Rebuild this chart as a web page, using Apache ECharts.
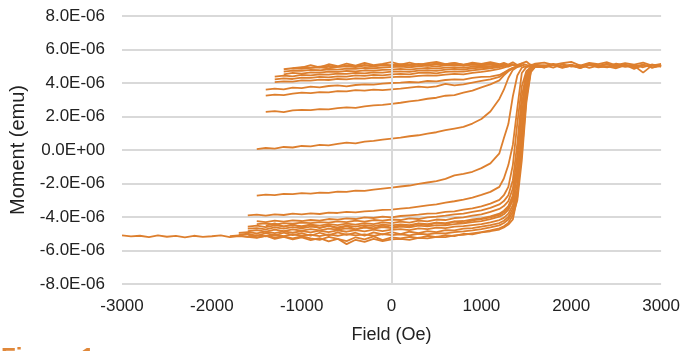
<!DOCTYPE html>
<html>
<head>
<meta charset="utf-8">
<script src="https://cdn.jsdelivr.net/npm/echarts@6/dist/echarts.min.js"></script>
<style>
html,body{margin:0;padding:0;background:#fff;}
#chart{width:683px;height:351px;}
</style>
</head>
<body>
<div id="chart"></div>
<script>
// Field grid (Oe)
const field = [-3000,-2900,-2800,-2700,-2600,-2500,-2400,-2300,-2200,-2100,-2000,-1900,-1800,-1700,
  -1600,-1500,-1400,-1300,-1200,-1100,-1000,
  -900,-800,-700,-600,-500,-400,-300,-200,-100,0,
  100,200,300,400,500,600,700,800,900,1000,
  1100,1200,
  1250,1300,1350,1400,1450,1500,1550,1600,
  1700,1800,1900,2000,2100,2200,2300,2400,2500,2600,2700,2800,2900,3000];

const xTickValues = [-3000,-2000,-1000,0,1000,2000,3000];
const xTickLabels = ['-3000','-2000','-1000','0','1000','2000','3000'];
const yTickLabels = ['-8.0E-06','-6.0E-06','-4.0E-06','-2.0E-06','0.0E+00','2.0E-06','4.0E-06','6.0E-06','8.0E-06'];

// Moment values in units of 1E-06 emu; each curve starts at the given field
const mainStart = -3000;
const mainCurve = [-5.10,-5.16,-5.12,-5.20,-5.10,-5.18,-5.13,-5.22,-5.12,-5.19,-5.15,-5.10,-5.20,-5.14,
  -5.19,-5.24,-5.13,-5.22,-5.16,-5.27,-5.15,
  -5.27,-5.36,-5.19,-5.30,-5.44,-5.21,-5.33,-5.16,-5.38,-5.22,
  -5.28,-5.18,-5.26,-5.12,-5.20,-5.08,-5.14,-5.00,-5.04,-4.92,
  -4.85,-4.75,
  -4.62,-4.45,-4.15,-2.80,0.60,4.00,4.88,5.02,
  4.92,5.12,4.96,5.06,4.88,5.10,4.94,5.16,4.96,5.08,4.84,5.10,4.92,5.06];

const low1Start = -1500;
const low1 = [-4.25,-4.30,-4.22,-4.28,-4.20,-4.24,
  -4.18,-4.22,-4.12,-4.16,-4.08,-4.12,-4.02,-4.06,-3.98,-4.02,
  -3.94,-3.90,-3.86,-3.80,-3.78,-3.70,-3.66,-3.56,-3.48,-3.36,
  -3.20,-2.98,
  -2.70,-2.20,-0.90,1.60,3.80,4.70,4.95,5.00,
  4.96];

const low2Start = -1500;
const low2 = [-4.42,-4.38,-4.45,-4.36,-4.40,-4.33,
  -4.37,-4.30,-4.34,-4.26,-4.31,-4.22,-4.27,-4.18,-4.22,-4.15,
  -4.18,-4.08,-4.12,-4.02,-3.98,-3.92,-3.84,-3.80,-3.70,-3.60,
  -3.45,-3.25,
  -3.05,-2.70,-1.80,0.40,3.20,4.55,4.92,5.02,
  4.98];

const low3Start = -1600;
const low3 = [-4.58,-4.52,-4.60,-4.50,-4.56,-4.48,-4.54,
  -4.46,-4.52,-4.42,-4.48,-4.40,-4.45,-4.36,-4.42,-4.32,-4.36,
  -4.28,-4.33,-4.22,-4.26,-4.15,-4.18,-4.06,-4.02,-3.92,-3.84,
  -3.70,-3.52,
  -3.35,-3.05,-2.30,-0.30,2.70,4.40,4.90,5.04,
  4.97,5.10,4.94,5.02,4.90,5.07,4.99,4.93,5.08,4.97,5.03,4.62,5.05,4.98];

const low4Start = -1600;
const low4 = [-4.70,-4.66,-4.74,-4.62,-4.70,-4.60,-4.68,
  -4.58,-4.64,-4.55,-4.62,-4.52,-4.58,-4.48,-4.55,-4.46,-4.50,
  -4.44,-4.48,-4.38,-4.42,-4.34,-4.36,-4.26,-4.24,-4.15,-4.08,
  -3.96,-3.80,
  -3.62,-3.35,-2.70,-0.90,2.10,4.20,4.86,5.00,
  5.02];

const low5Start = -1600;
const low5 = [-4.85,-4.78,-4.88,-4.76,-4.84,-4.74,-4.82,
  -4.72,-4.80,-4.70,-4.76,-4.68,-4.74,-4.64,-4.70,-4.60,-4.66,
  -4.58,-4.62,-4.52,-4.56,-4.48,-4.50,-4.42,-4.38,-4.30,-4.24,
  -4.12,-3.98,
  -3.84,-3.58,-3.00,-1.50,1.50,3.95,4.82,5.01,
  4.95];

const low6Start = -1700;
const low6 = [-4.95,
  -4.90,-4.98,-4.88,-4.96,-4.86,-4.94,-4.84,
  -4.92,-4.82,-4.90,-4.80,-4.88,-4.78,-4.86,-4.76,-4.84,-4.76,
  -4.72,-4.78,-4.68,-4.72,-4.64,-4.66,-4.58,-4.55,-4.48,-4.42,
  -4.32,-4.18,
  -4.05,-3.80,-3.30,-2.00,1.00,3.70,4.80,5.03,
  4.94,5.06,4.90,5.04,4.97,5.12,4.93,5.00,4.88,5.05,4.99,5.09,4.92,5.02];

const low7Start = -1700;
const low7 = [-5.05,
  -5.00,-5.12,-4.96,-5.10,-4.94,-5.08,-4.96,
  -5.12,-4.94,-5.10,-4.92,-5.06,-4.94,-5.12,-4.92,-5.04,-4.90,
  -5.02,-4.88,-4.96,-4.84,-4.90,-4.78,-4.80,-4.70,-4.66,-4.58,
  -4.48,-4.36,
  -4.22,-4.00,-3.50,-2.40,0.20,3.40,4.75,5.00,
  4.96];

const low8Start = -1800;
const low8 = [-5.15,-5.10,
  -5.18,-5.08,-5.16,-5.06,-5.14,-5.04,-5.12,
  -5.06,-5.14,-5.04,-5.12,-5.02,-5.10,-5.04,-5.12,-5.02,-5.08,
  -5.04,-5.10,-5.00,-5.04,-4.96,-4.98,-4.90,-4.86,-4.80,-4.72,
  -4.62,-4.50,
  -4.36,-4.15,-3.70,-2.60,-0.20,3.10,4.70,4.98,
  5.03];

const low9Start = -1600;
const low9 = [-5.05,-5.22,-5.12,-5.30,-5.18,-5.34,-5.22,
  -5.38,-5.26,-5.45,-5.30,-5.62,-5.36,-5.48,-5.30,-5.44,-5.34,
  -5.30,-5.36,-5.24,-5.28,-5.18,-5.20,-5.10,-5.06,-4.98,-4.90,
  -4.80,-4.68,
  -4.55,-4.35,-3.90,-3.00,-0.60,2.80,4.65,4.98,
  5.00];

const low10Start = -1400;
const low10 = [-4.52,-4.38,-4.58,-4.44,-4.62,
  -4.46,-4.66,-4.50,-4.70,-4.55,-4.74,-4.58,-4.68,-4.52,-4.64,
  -4.48,-4.56,-4.40,-4.50,-4.34,-4.42,-4.28,-4.36,-4.20,-4.12,
  -4.02,-3.88,
  -3.72,-3.45,-2.85,-1.20,1.80,4.10,4.84,5.00,
  4.97];

const rev1Start = -1400;
const rev1 = [3.60,3.66,3.62,3.72,3.70,
  3.78,3.74,3.82,3.86,3.80,3.88,3.92,3.90,3.96,4.00,
  4.02,4.06,4.04,4.12,4.10,4.18,4.22,4.20,4.30,4.36,
  4.38,4.48,
  4.62,4.78,4.90,4.98];

const rev2Start = -1400;
const rev2 = [3.24,3.30,3.28,3.36,3.42,
  3.40,3.46,3.44,3.52,3.50,3.58,3.55,3.60,3.58,3.62,
  3.66,3.72,3.78,3.74,3.80,3.95,3.86,3.92,4.02,4.12,
  4.22,4.36,
  4.55,4.74,4.90,4.98];

const rev3Start = -1400;
const rev3 = [2.28,2.32,2.26,2.36,2.40,
  2.38,2.44,2.42,2.50,2.55,2.52,2.60,2.66,2.70,2.76,
  2.82,2.90,2.96,3.06,3.12,3.24,3.28,3.42,3.55,3.74,
  3.92,4.16,
  4.45,4.70,4.88,4.98];

const rev4Start = -1500;
const rev4 = [0.05,0.12,0.08,0.18,0.15,0.24,
  0.22,0.30,0.28,0.36,0.44,0.40,0.50,0.55,0.62,0.68,
  0.74,0.82,0.88,0.98,1.06,1.18,1.28,1.38,1.58,1.85,
  2.30,3.05,
  3.60,4.30,4.78,4.95,5.02];

const rev5Start = -1500;
const rev5 = [-2.72,-2.66,-2.70,-2.62,-2.64,-2.58,
  -2.60,-2.54,-2.56,-2.48,-2.50,-2.42,-2.44,-2.36,-2.30,-2.25,
  -2.18,-2.12,-2.02,-1.94,-1.86,-1.72,-1.52,-1.42,-1.30,-1.08,
  -0.80,-0.20,
  0.70,1.55,3.20,4.45,4.92,5.00];

const rev6Start = -1600;
const rev6 = [-3.90,-3.86,-3.92,-3.84,-3.88,-3.80,-3.84,
  -3.78,-3.82,-3.74,-3.76,-3.70,-3.72,-3.66,-3.64,-3.58,-3.56,
  -3.50,-3.46,-3.38,-3.30,-3.24,-3.14,-3.06,-2.96,-2.84,-2.68,
  -2.50,-2.20,
  -1.70,-0.90,0.30,2.50,4.60,4.95,5.00];

const up1Start = -1300;
const up1 = [4.05,4.10,4.08,4.16,
  4.14,4.20,4.18,4.24,4.22,4.28,4.26,4.32,4.30,4.35,
  4.38,4.36,4.42,4.46,4.44,4.50,4.55,4.52,4.60,4.66,
  4.74,4.84,
  4.92,5.00];

const up2Start = -1300;
const up2 = [4.22,4.28,4.24,4.32,
  4.30,4.36,4.34,4.40,4.38,4.45,4.42,4.48,4.46,4.52,
  4.55,4.52,4.60,4.62,4.58,4.66,4.70,4.68,4.76,4.82,
  4.88,4.95,
  5.00];

const up3Start = -1300;
const up3 = [4.38,4.44,4.40,4.48,
  4.46,4.52,4.50,4.56,4.54,4.60,4.58,4.64,4.62,4.68,
  4.70,4.66,4.74,4.76,4.72,4.80,4.84,4.80,4.88,4.92,
  4.96,5.02,
  5.04,4.98,5.08,5.00,5.06,4.96,5.10,5.02,
  5.05,4.92,5.12,4.98,5.06,4.90,5.04,5.14,4.96,5.08,4.94,5.02,5.10,5.00];

const up4Start = -1200;
const up4 = [4.52,4.60,4.56,
  4.64,4.62,4.68,4.66,4.72,4.70,4.76,4.74,4.78,4.80,
  4.84,4.80,4.86,4.90,4.86,4.92,4.95,4.90,4.98,5.02,
  5.00,5.06,
  5.02,5.08];

const up5Start = -1200;
const up5 = [4.68,4.74,4.72,
  4.78,4.76,4.82,4.80,4.86,4.84,4.90,4.88,4.92,4.95,
  4.98,4.94,5.00,5.04,4.98,5.06,5.08,5.02,5.10,5.06,
  5.12,5.04,
  5.10,5.02];

const up6Start = -1200;
const up6 = [4.82,4.88,4.84,
  4.90,4.94,4.88,4.96,5.00,4.95,5.04,5.00,5.06,5.02,
  5.08,5.04,5.10,5.06,5.12,5.08,5.14,5.06,5.12,5.10,
  5.16,5.08,
  5.12,5.04,5.10];

const up7Start = -1100;
const up7 = [4.88,4.94,
  4.92,4.98,5.02,4.96,5.04,5.00,5.08,5.02,5.10,5.06,
  5.12,5.08,5.14,5.10,5.16,5.12,5.18,5.10,5.16,5.12,
  5.18,5.10,
  5.14,5.06,5.12,5.04,5.16,5.08,5.00,5.10,
  5.04,5.14,5.00,5.10,4.96,5.12,5.06,4.98,5.16,5.04,5.08,4.94,5.10,5.02];

const up8Start = -1000;
const up8 = [4.92,
  5.06,4.94,5.12,5.00,5.16,5.04,5.20,5.06,5.14,5.24,
  5.10,5.22,5.08,5.18,5.26,5.12,5.20,5.08,5.22,5.14,
  5.24,5.12,
  5.20,5.10,5.24,5.08,5.18,5.28,5.06,5.16,
  5.22,5.08,5.18,5.26,5.04,5.20,5.12,5.24,5.06,5.18,5.10,5.22,5.04,5.14];

const curves = [
  [mainStart, mainCurve],[low1Start, low1],[low2Start, low2],[low3Start, low3],[low4Start, low4],
  [low5Start, low5],[low6Start, low6],[low7Start, low7],[low8Start, low8],[low9Start, low9],[low10Start, low10],
  [rev1Start, rev1],[rev2Start, rev2],[rev3Start, rev3],[rev4Start, rev4],[rev5Start, rev5],[rev6Start, rev6],
  [up1Start, up1],[up2Start, up2],[up3Start, up3],[up4Start, up4],[up5Start, up5],[up6Start, up6],[up7Start, up7],[up8Start, up8]
];

function toPoints(start, vals) {
  const i0 = field.indexOf(start);
  const out = [];
  for (let i = 0; i < vals.length && i0 + i < field.length; i++) out.push([field[i0 + i], vals[i]]);
  return out;
}

const ORANGE = '#dd7f2e';
const GRID = '#d9d9d9';
const FONT = '"Liberation Sans", Arial, sans-serif';

const series = [{
  type: 'line', data: [], z: 1, silent: true,
  markLine: { silent: true, symbol: ['none','none'], label: { show: false },
    lineStyle: { color: GRID, width: 2, type: 'solid' }, data: [{ xAxis: 0 }] }
}];
curves.forEach(([s, v]) => series.push({
  type: 'line', data: toPoints(s, v), showSymbol: false, z: 3,
  lineStyle: { color: ORANGE, width: 1.8 }, itemStyle: { color: ORANGE }
}));

const chart = echarts.init(document.getElementById('chart'), null, { renderer: 'canvas' });
chart.setOption({
  animation: false,
  backgroundColor: '#fff',
  grid: { left: 122, right: 20, top: 16, bottom: 67 },
  xAxis: {
    type: 'value', min: -3000, max: 3000, interval: 1000,
    name: 'Field (Oe)', nameLocation: 'middle', nameGap: 42,
    nameTextStyle: { fontFamily: FONT, fontSize: 18, color: '#222' },
    axisLine: { show: false }, axisTick: { show: false }, splitLine: { show: false },
    axisLabel: { fontFamily: FONT, fontSize: 17, color: '#222', margin: 14,
      formatter: v => xTickLabels[xTickValues.indexOf(v)] }
  },
  yAxis: {
    type: 'value', min: -8, max: 8, interval: 2,
    name: 'Moment (emu)', nameLocation: 'middle', nameGap: 94,
    nameTextStyle: { fontFamily: FONT, fontSize: 20, color: '#222' },
    axisLine: { show: false }, axisTick: { show: false },
    splitLine: { show: true, lineStyle: { color: GRID, width: 2 } },
    axisLabel: { fontFamily: FONT, fontSize: 17, color: '#222', margin: 17,
      formatter: v => yTickLabels[Math.round((v + 8) / 2)] }
  },
  graphic: [{ type: 'text', left: 1, top: 346, style: { text: 'Figure 1', fill: '#e0883a',
    font: 'bold 24px "Liberation Sans", Arial, sans-serif' } }],
  series: series
});
</script>
</body>
</html>
